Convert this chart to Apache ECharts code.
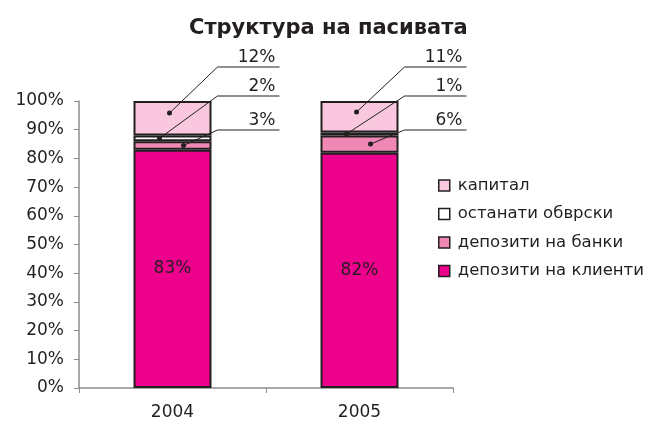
<!DOCTYPE html>
<html>
<head>
<meta charset="utf-8">
<script src="https://cdn.jsdelivr.net/npm/echarts@6/dist/echarts.min.js"></script>
<style>
  html, body { margin: 0; padding: 0; background: #fff; }
  #chart { width: 652px; height: 427px; }
</style>
</head>
<body>
<div id="chart"></div>
<script>
// data
const categories = ['2004', '2005']
const seriesNames = ['депозити на клиенти', 'депозити на банки', 'останати обврски', 'капитал']
const clients = [83, 82]
const banks = [3, 6]
const otherLiab = [2, 1]
const capital = [12, 11]
const yTicks = [0, 100, 10]

// look
const ink = '#231f20'
const colors = ['#ec008c', '#f088b6', '#ffffff', '#f9c8de']
const font = 'DejaVu Sans'
const barW = 78
// callout layout per stacked segment (index into seriesNames)
const dotDx = { 1: 11, 2: -13, 3: -3 }
const dotFrac = { 1: 0.5, 2: 0.5, 3: 0.65 }
const elbowDy = { 1: 29, 2: -5, 3: -34 }   // relative to the 100% line

let chart = echarts.init(document.getElementById('chart'))

let stacks = [clients, banks, otherLiab, capital]
let callouts = []
categories.forEach(function (c, i) {
  let base = 0
  stacks.forEach(function (arr, k) {
    if (k > 0) {
      callouts.push([i, base + arr[i] * dotFrac[k], k, arr[i]])
    }
    base += arr[i]
  })
})

let barSeries = stacks.map(function (arr, k) {
  return {
    name: seriesNames[k],
    type: 'bar',
    stack: 'total',
    barWidth: barW,
    data: arr,
    itemStyle: { color: colors[k], borderColor: ink, borderWidth: 2 },
    label: k === 0 ? {
      show: true,
      position: 'inside',
      formatter: '{c}%',
      color: ink,
      fontFamily: font,
      fontSize: 17
    } : { show: false }
  }
})

let calloutSeries = {
  type: 'custom',
  data: callouts,
  z: 10,
  silent: true,
  renderItem: function (params, api) {
    let i = api.value(0)
    let k = api.value(2)
    let p = api.coord([i, api.value(1)])
    let top = api.coord([i, 100])[1]
    let dot = [p[0] + dotDx[k], p[1]]
    let ey = top + elbowDy[k]
    let ex = p[0] + barW / 2 + 6
    let endX = p[0] + barW / 2 + 68
    return {
      type: 'group',
      children: [
        {
          type: 'polyline',
          shape: { points: [dot, [ex, ey], [endX, ey]] },
          style: { stroke: ink, lineWidth: 1, fill: null }
        },
        {
          type: 'circle',
          shape: { cx: dot[0], cy: dot[1], r: 2.5 },
          style: { fill: ink }
        },
        {
          type: 'text',
          style: {
            x: endX - 4,
            y: ey - 1,
            text: api.value(3) + '%',
            align: 'right',
            verticalAlign: 'bottom',
            fill: ink,
            font: '17px ' + font
          }
        }
      ]
    }
  }
}

let option = {
  animation: false,
  title: {
    text: 'Структура на пасивата',
    left: 184,
    top: 13,
    textStyle: { fontFamily: font, fontSize: 21, fontWeight: 'bold', color: ink }
  },
  legend: {
    orient: 'vertical',
    left: 433,
    top: 172,
    data: seriesNames.slice().reverse(),
    itemWidth: 11,
    itemHeight: 11,
    itemGap: 11.5,
    icon: 'rect',
    itemStyle: { borderColor: ink, borderWidth: 1.5 },
    textStyle: { fontFamily: font, fontSize: 16.5, color: ink, padding: [0, 0, 0, 3] }
  },
  grid: { left: 79, top: 101, width: 374, height: 287 },
  xAxis: {
    type: 'category',
    data: categories,
    axisLine: { lineStyle: { color: '#8c8c8c', width: 1.5 } },
    axisTick: { show: true, length: 5, lineStyle: { color: '#8c8c8c' } },
    axisLabel: { color: ink, fontFamily: font, fontSize: 17, margin: 16 }
  },
  yAxis: {
    type: 'value',
    min: yTicks[0],
    max: yTicks[1],
    interval: yTicks[2],
    splitLine: { show: false },
    axisLine: { show: true, lineStyle: { color: '#8c8c8c', width: 1.5 } },
    axisTick: { show: true, length: 5, lineStyle: { color: '#8c8c8c' } },
    axisLabel: { formatter: '{value}%', color: ink, fontFamily: font, fontSize: 17, margin: 15 }
  },
  series: barSeries.concat([calloutSeries])
}
chart.setOption(option)
</script>
</body>
</html>
